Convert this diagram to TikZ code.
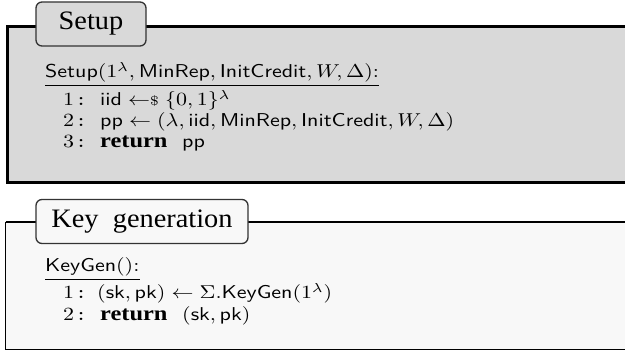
\documentclass[tikz,border=0pt]{standalone}
\usepackage{fontspec}
\newfontfamily\serifT{Liberation Serif}
\definecolor{setupgray}{HTML}{D9D9D9}
\definecolor{keygray}{HTML}{F8F8F8}
\definecolor{titleborder}{HTML}{333333}
\newcommand\smpl{\mathrel{\leftarrow\mkern-5mu{\scriptstyle\$}}}
\newcommand\retkw{{\serifT\bfseries\fontsize{11.1}{13}\selectfont return}}
\newcommand\bigtxt[1]{\scalebox{2.2}[1.86]{#1}}
\newcommand\ttltxt[1]{\scalebox{1.97}[1.85]{#1}}
\newcommand\lnum[1]{\bigtxt{$#1$\kern0.5pt{\ttfamily :}}}
\begin{document}
\begin{tikzpicture}[x=1pt,y=1pt,
  titlebox/.style={draw=titleborder, line width=1.3pt, rounded corners=6pt,
    minimum height=44pt, inner sep=0pt, font=\fontsize{14.4}{17}\selectfont\serifT},
  body/.style={anchor=base west, inner sep=0pt, font=\fontsize{10}{12}\selectfont},
  uline/.style={line width=0.8pt}]
\clip (0,0) rectangle (625,354);
% Setup box
\fill[setupgray] (7.5,171) rectangle (640,327);
\draw[line width=3pt] (640,327) -- (7.5,327) -- (7.5,171) -- (640,171);
% Key generation box
\fill[keygray] (5.5,4) rectangle (640,132);
\draw[line width=1pt] (5.5,132) -- (5.5,4) -- (640,4);
\draw[line width=2pt] (5.5,132) -- (640,132);
% titles
\node[titlebox, fill=setupgray, minimum width=110pt] (setupT) at (91,330) {\ttltxt{Setup}};
\node[titlebox, fill=keygray, minimum width=212pt] (keyT) at (142,132.5) {\ttltxt{Key\ \ generation}};
% Setup body
\node[body] (sh) at (45,276) {\bigtxt{$\mathsf{Setup}(1^\lambda, \mathsf{MinRep}, \mathsf{InitCredit}, W, \Delta)$:}};
\draw[uline] ([yshift=-7.5pt]sh.base west) -- ([yshift=-7.5pt]sh.base east);
\node[body] (n1) at (63,248) {\lnum{1}};
\node[body] (n2) at (63,227) {\lnum{2}};
\node[body] (n3) at (63,206) {\lnum{3}};
\node[body] (s1) at (100,248) {\bigtxt{$\mathsf{iid} \smpl \{0,1\}^\lambda$}};
\node[body] (s2) at (100,227) {\bigtxt{$\mathsf{pp} \leftarrow (\lambda, \mathsf{iid}, \mathsf{MinRep}, \mathsf{InitCredit}, W, \Delta)$}};
\node[body] (s3) at (100,206) {\bigtxt{\retkw\ \ $\mathsf{pp}$}};
% KeyGen body
\node[body] (kh) at (45,82) {\bigtxt{$\mathsf{KeyGen}()$:}};
\draw[uline] ([yshift=-7.5pt]kh.base west) -- ([yshift=-7.5pt]kh.base east);
\node[body] (k1) at (63,55) {\lnum{1}};
\node[body] (k2) at (63,33) {\lnum{2}};
\node[body] (t1) at (97,55) {\bigtxt{$(\mathsf{sk}, \mathsf{pk}) \leftarrow \Sigma.\mathsf{KeyGen}(1^\lambda)$}};
\node[body] (t2) at (100,33) {\bigtxt{\retkw\ \ $(\mathsf{sk}, \mathsf{pk})$}};
\end{tikzpicture}
\end{document}
